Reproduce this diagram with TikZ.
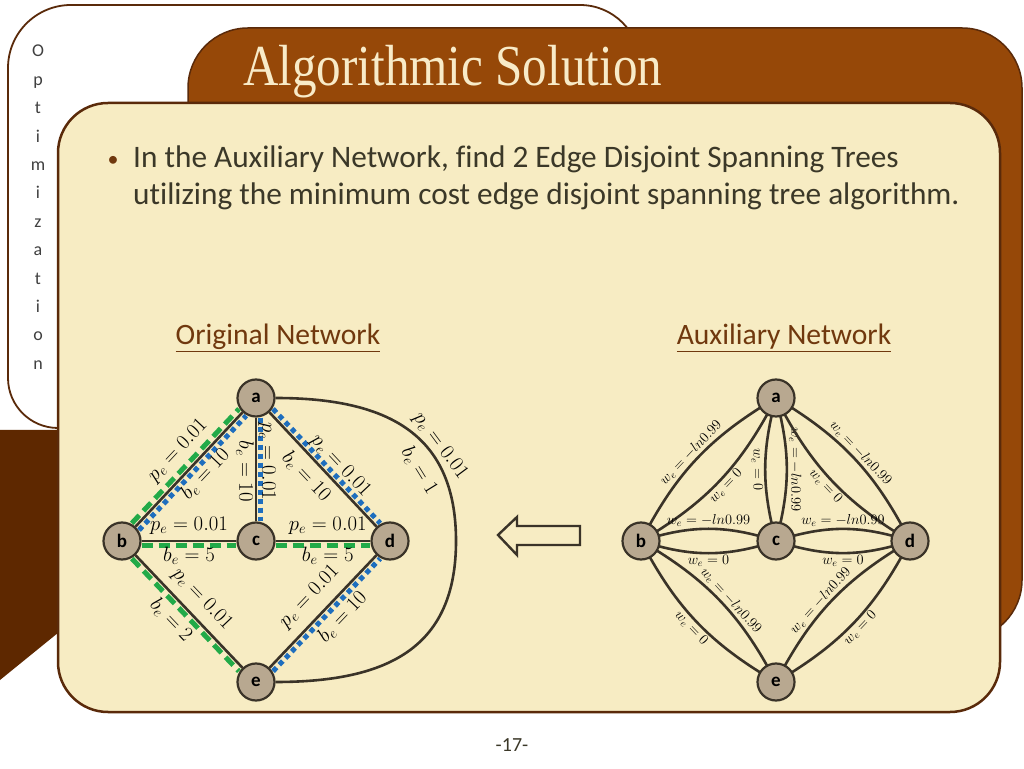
\documentclass[tikz,border=0pt]{standalone}
\usepackage{fontspec}
\setmainfont{Carlito}[Ligatures=NoCommon]
\newfontfamily\titlefont{Liberation Serif}
\usepackage{tikz}
\usetikzlibrary{positioning, backgrounds}
\definecolor{creamfill}{HTML}{F7ECC3}
\definecolor{headbrown}{HTML}{964808}
\definecolor{darkbrown}{HTML}{5E2800}
\definecolor{rimbrown}{HTML}{5A2A0A}
\definecolor{titlecream}{HTML}{F8EBC8}
\definecolor{bodytext}{HTML}{3B3828}
\definecolor{headline}{HTML}{70380E}
\definecolor{sidegray}{HTML}{404040}
\definecolor{nodefill}{HTML}{B8A890}
\definecolor{edgedark}{HTML}{3A3328}
\definecolor{treegreen}{HTML}{22AA48}
\definecolor{treeblue}{HTML}{1E6EBE}

\begin{document}
\begin{tikzpicture}[x=1pt,y=1pt,
    vertex/.style={circle, draw=edgedark, line width=2.2pt, fill=nodefill,
      minimum size=37pt, inner sep=0pt, font=\fontsize{19}{19}\selectfont\bfseries},
    link/.style={draw=edgedark, line width=2.6pt},
    greentree/.style={draw=treegreen, line width=5pt, dash pattern=on 11pt off 6pt},
    bluetree/.style={draw=treeblue, line width=5pt, dash pattern=on 5pt off 4pt},
    plab/.style={inner sep=1pt, font=\fontsize{22}{22}\selectfont},
    wlab/.style={inner sep=1pt, font=\fontsize{14}{14}\selectfont},
    heading/.style={anchor=base, inner sep=0pt, text=headline, font=\fontsize{29.6}{29.6}\selectfont},
    bodyline/.style={anchor=base west, inner sep=0pt, text=bodytext, font=\fontsize{31.3}{31.3}\selectfont},
    sidelet/.style={anchor=base, inner sep=0pt, text=sidegray, font=\fontsize{18}{18}\selectfont},
  ]
  \useasboundingbox (0,0) rectangle (1024,768);

  \begin{scope}[on background layer]
  \fill[white] (0,0) rectangle (1024,768);
  % side tab and dark strip
  \draw[rimbrown, line width=1.8pt, fill=white] (8,390) -- (8,700)
    arc[start angle=180, end angle=90, radius=63] -- (580,763)
    arc[start angle=90, end angle=0, radius=60] -- (640,340) -- (58,340)
    arc[start angle=270, end angle=180, radius=50] -- cycle;
  \fill[darkbrown] (0,338) -- (80,338) -- (80,153) -- (0,88) -- cycle;
  % header and content panel
  \draw[rimbrown, line width=1.5pt, fill=headbrown, rounded corners=60pt] (188,128) rectangle (1022,740);
  \draw[rimbrown, line width=2.5pt, fill=creamfill, rounded corners=50pt] (58,56) rectangle (1000,665);
  \end{scope}

  \foreach \ch [count=\k from 0] in {O,p,t,i,m,i,z,a,t,i,o,n}
    \node[sidelet] at (38,711-28.4*\k) {\ch};

  \node[anchor=base west, inner sep=0pt, text=titlecream] (title) at (243,682)
    {\scalebox{0.847}[1]{\titlefont\fontsize{58}{58}\selectfont Algorithmic Solution}};
  \node[anchor=base, inner sep=0pt, text=headline, font=\fontsize{22}{22}\selectfont] (bullet) at (113,601) {•};
  \node[bodyline] (line1) at (133,600) {In the Auxiliary Network, find 2 Edge Disjoint Spanning Trees};
  \node[bodyline] (line2) at (133,563) {utilizing the minimum cost edge disjoint spanning tree algorithm.};
  \node[heading] (orig) at (278,423) {\underline{Original Network}};
  \node[heading] (aux) at (784,423) {\underline{Auxiliary Network}};
  \node[text=bodytext, font=\fontsize{20}{20}\selectfont] (page) at (512,23) {-17-};

  % original network
  \node[vertex] (a1) at (256,370) {a};
  \node[vertex] (b1) at (122,227) {b};
  \node[vertex] (c1) at (256,227) {c};
  \node[vertex] (d1) at (390,227) {d};
  \node[vertex] (e1) at (256,86) {e};

  \draw[greentree, transform canvas={shift={(-3.6,3.4)}}] (b1) -- (a1);
  \draw[greentree, transform canvas={shift={(0,-4.5)}}] (b1) -- (c1);
  \draw[greentree, transform canvas={shift={(0,-4.5)}}] (c1) -- (d1);
  \draw[greentree, transform canvas={shift={(-3.6,-3.4)}}] (b1) -- (e1);
  \draw[bluetree, transform canvas={shift={(3.6,-3.4)}}] (b1) -- (a1);
  \draw[bluetree, transform canvas={shift={(4.5,0)}}] (a1) -- (c1);
  \draw[bluetree, transform canvas={shift={(3.6,3.4)}}] (a1) -- (d1);
  \draw[bluetree, transform canvas={shift={(3.6,-3.4)}}] (e1) -- (d1);

  \draw[link] (b1) -- node[plab, sloped, above=10pt, pos=0.54] {$p_e=0.01$}
    node[plab, sloped, below=4pt, pos=0.55] {$b_e=10$} (a1);
  \draw[link] (a1) -- node[plab, rotate=-90, above=1pt, pos=0.43] {$p_e=0.01$}
    node[plab, rotate=-90, below=9pt, pos=0.43] {$b_e=10$} (c1);
  \draw[link] (a1) -- node[plab, sloped, above=4pt, pos=0.56] {$p_e=0.01$}
    node[plab, sloped, below=6pt, pos=0.46] {$b_e=10$} (d1);
  \draw[link] (b1) -- node[plab, above=4pt] {$p_e=0.01$}
    node[plab, below=4pt] {$b_e=5$} (c1);
  \draw[link] (c1) -- node[plab, above=4pt, pos=0.55] {$p_e=0.01$}
    node[plab, below=4pt, pos=0.55] {$b_e=5$} (d1);
  \draw[link] (b1) -- node[plab, sloped, above=7pt, pos=0.5] {$p_e=0.01$}
    node[plab, sloped, below=8pt, pos=0.46] {$b_e=2$} (e1);
  \draw[link] (e1) -- node[plab, sloped, above=9pt, pos=0.51] {$p_e=0.01$}
    node[plab, sloped, below=7pt, pos=0.56] {$b_e=10$} (d1);
  \coordinate (bow) at (456,227);
  \draw[link] (a1.east) .. controls +(115,0) and +(0,105) .. (bow)
    node[plab, sloped, above=0pt, pos=0.64] {$p_e=0.01$}
    node[plab, sloped, below=9pt, pos=0.68] {$b_e=1$}
    .. controls +(0,-105) and +(115,0) .. (e1.east);

  % arrow between the networks
  \draw[edgedark, line width=2.4pt, line join=miter] (498,233) -- (517,251) -- (517,242) -- (580,242)
    -- (580,223) -- (517,223) -- (517,213) -- cycle;

  % auxiliary network
  \node[vertex] (a2) at (776,370) {a};
  \node[vertex] (b2) at (641,227) {b};
  \node[vertex] (c2) at (776,227) {c};
  \node[vertex] (d2) at (910,227) {d};
  \node[vertex] (e2) at (776,86) {e};

  \begin{scope}[on background layer]
  \draw[link] (b2.center) to[bend left=16] node[wlab, sloped, above] {$w_e=-ln0.99$} (a2.center);
  \draw[link] (b2.center) to[bend right=16] node[wlab, sloped, below] {$w_e=0$} (a2.center);
  \draw[link] (a2.center) to[bend left=15] node[wlab, rotate=-90, above] {$w_e=-ln0.99$} (c2.center);
  \draw[link] (a2.center) to[bend right=15] node[wlab, rotate=-90, below] {$w_e=0$} (c2.center);
  \draw[link] (a2.center) to[bend left=16] node[wlab, sloped, above] {$w_e=-ln0.99$} (d2.center);
  \draw[link] (a2.center) to[bend right=16] node[wlab, sloped, below] {$w_e=0$} (d2.center);
  \draw[link] (b2.center) to[bend left=18] node[wlab, above] {$w_e=-ln0.99$} (c2.center);
  \draw[link] (b2.center) to[bend right=18] node[wlab, below] {$w_e=0$} (c2.center);
  \draw[link] (c2.center) to[bend left=18] node[wlab, above] {$w_e=-ln0.99$} (d2.center);
  \draw[link] (c2.center) to[bend right=18] node[wlab, below] {$w_e=0$} (d2.center);
  \draw[link] (b2.center) to[bend left=16] node[wlab, sloped, above, pos=0.54] {$w_e=-ln0.99$} (e2.center);
  \draw[link] (b2.center) to[bend right=16] node[wlab, sloped, below] {$w_e=0$} (e2.center);
  \draw[link] (e2.center) to[bend left=16] node[wlab, sloped, above, pos=0.46] {$w_e=-ln0.99$} (d2.center);
  \draw[link] (e2.center) to[bend right=16] node[wlab, sloped, below] {$w_e=0$} (d2.center);
  \end{scope}
\end{tikzpicture}
\end{document}
